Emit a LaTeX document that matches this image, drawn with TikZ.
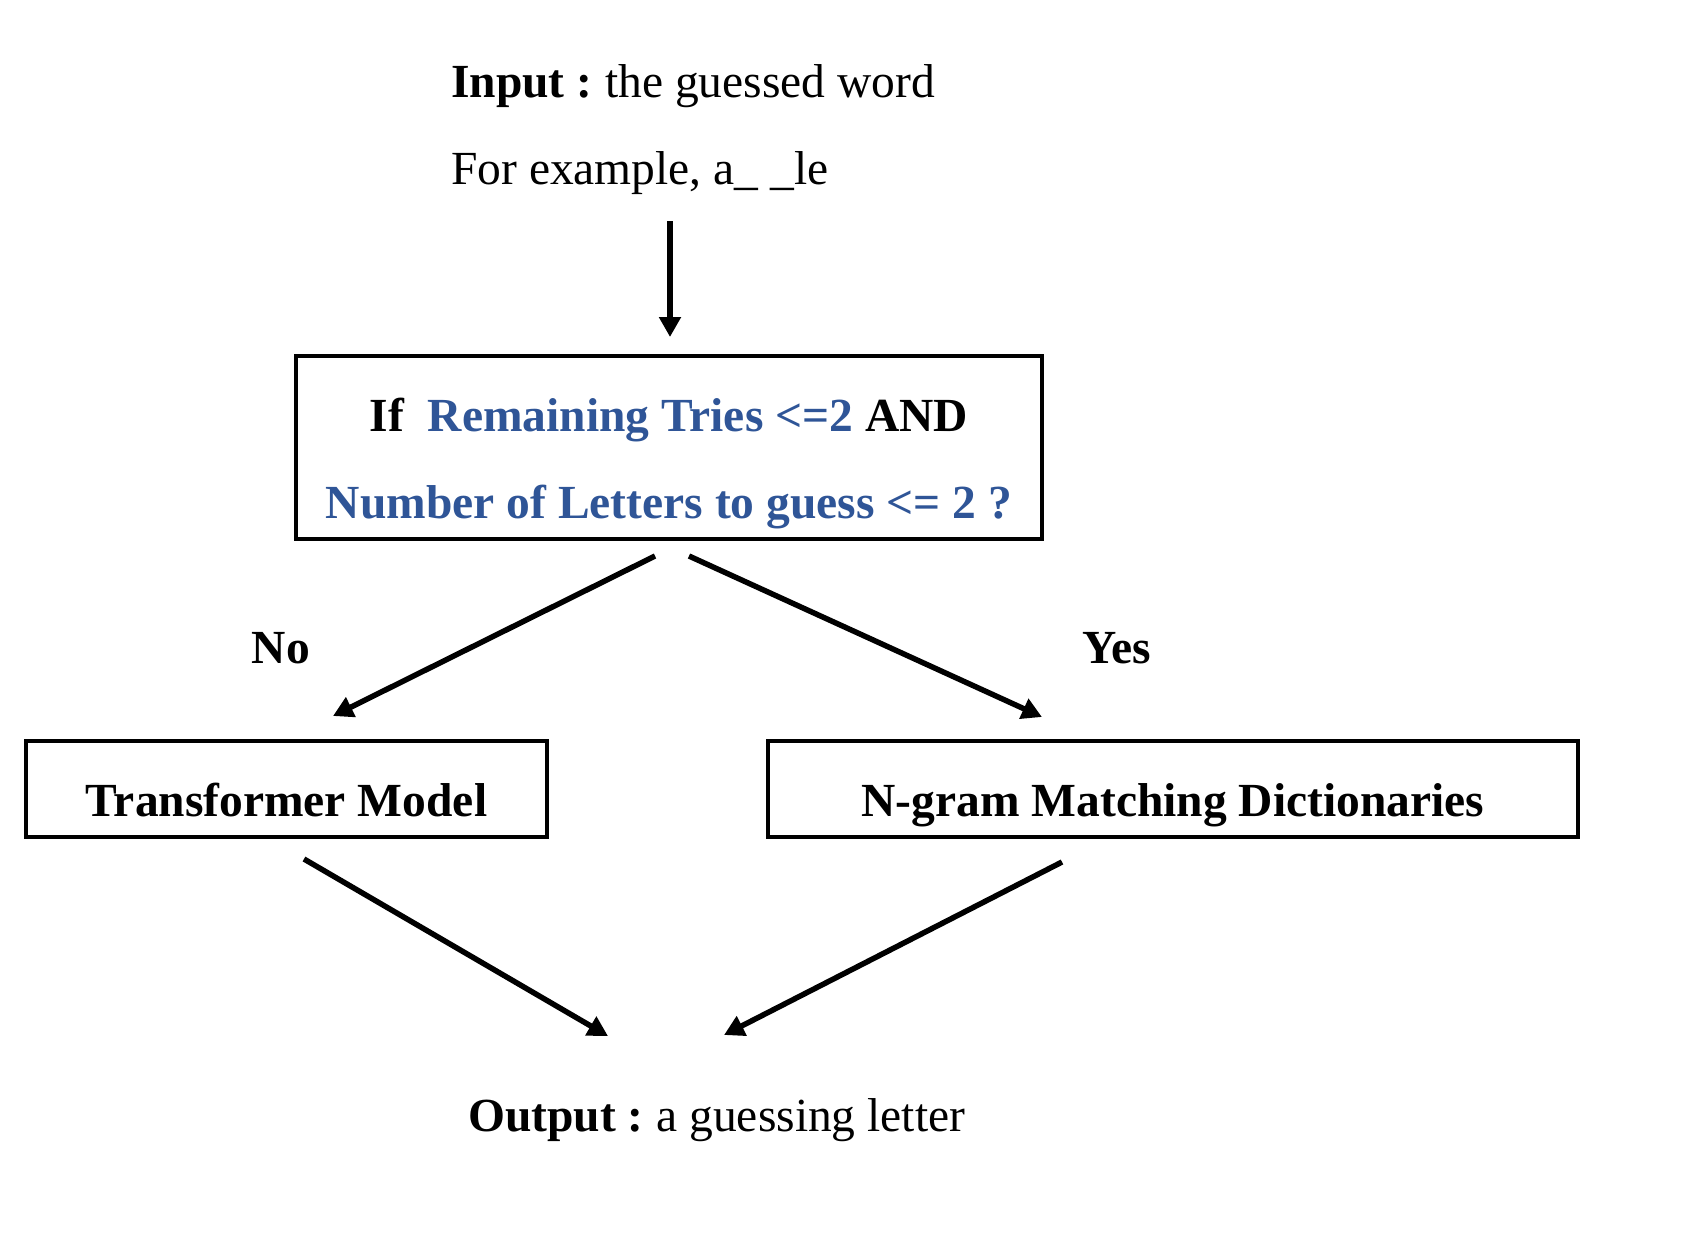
\documentclass[tikz,border=0pt]{standalone}
\usepackage{fontspec}
\setmainfont{Liberation Serif}
\usetikzlibrary{arrows.meta}

\definecolor{condblue}{HTML}{2F5597}

\tikzset{
	txt/.style={inner sep=0pt, anchor=base west, font=\fontsize{47.5}{57}\selectfont},
	ctxt/.style={inner sep=0pt, anchor=base, font=\fontsize{47.5}{57}\selectfont\bfseries},
	box/.style={draw, line width=3.5pt, inner sep=0pt, minimum height=96pt,
		text height=60pt, text depth=6pt, font=\fontsize{47.5}{57}\selectfont\bfseries},
	flow/.style={line width=5.5pt, -{Triangle[length=20pt, width=21pt]}}
}

\begin{document}
\begin{tikzpicture}[x=1pt, y=-1pt]

	\useasboundingbox (0,0) rectangle (1699,1240);

	% input
	\node[txt] (input) at (451,97) {\textbf{Input :}\hspace{-3pt} the guessed word};
	\node[txt] (example) at (451,184) {For example, a\_ \_le};

	% condition
	\node[draw, line width=3.5pt, minimum width=746pt, minimum height=183pt]
		(cond) at (669,447.5) {};
	\node[ctxt] (condA) at (669,431)
		{If\ \ \textcolor{condblue}{Remaining Tries <=2} AND};
	\node[ctxt, text=condblue] (condB) at (669,518)
		{Number of Letters to guess <= 2 ?};

	% branches
	\node[box, minimum width=521pt] (trans) at (286.5,789) {Transformer Model};
	\node[box, minimum width=810pt] (ngram) at (1173,789) {N-gram Matching Dictionaries};

	\node[ctxt] (no) at (281,663) {No};
	\node[ctxt] (yes) at (1117,663) {Yes};

	% output
	\node[txt] (output) at (468,1131) {\textbf{Output :}\hspace{-3pt} a guessing letter};

	% arrow ends
	\coordinate (in-s) at (670,221);
	\coordinate (in-e) at (670,337);
	\coordinate (no-s) at (655,556);
	\coordinate (no-e) at (333,716);
	\coordinate (yes-s) at (689,556);
	\coordinate (yes-e) at (1042,717);
	\coordinate (tr-s) at (304,859);
	\coordinate (tr-e) at (608,1036);
	\coordinate (ng-s) at (1062,862);
	\coordinate (ng-e) at (724,1035);

	\draw[flow] (in-s) -- (in-e);
	\draw[flow] (no-s) -- (no-e);
	\draw[flow] (yes-s) -- (yes-e);
	\draw[flow] (tr-s) -- (tr-e);
	\draw[flow] (ng-s) -- (ng-e);

\end{tikzpicture}
\end{document}
